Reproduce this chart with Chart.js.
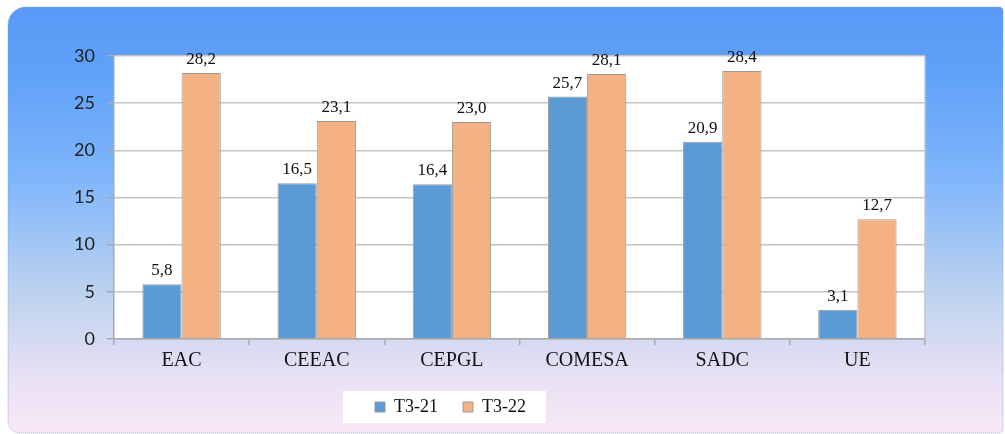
<!DOCTYPE html>
<html>
<head>
<meta charset="utf-8">
<script src="https://cdn.jsdelivr.net/npm/chart.js@4"></script>
<style>
html,body{margin:0;padding:0;background:#fff;}
#wrap{width:1005px;height:434px;position:relative;}
</style>
</head>
<body>
<div id="wrap"><canvas id="c" width="1005" height="434"></canvas></div>
<script>
const categories = ['EAC', 'CEEAC', 'CEPGL', 'COMESA', 'SADC', 'UE'];
const seriesNames = ['T3-21', 'T3-22'];
const valuesT321 = [5.8, 16.5, 16.4, 25.7, 20.9, 3.1];
const valuesT322 = [28.2, 23.1, 23.0, 28.1, 28.4, 12.7];
const yTicks = [0, 5, 10, 15, 20, 25, 30];

const bgPlugin = {
  id: 'bg',
  beforeDraw(chart) {
    const ctx = chart.ctx;
    ctx.save();
    ctx.fillStyle = '#ffffff';
    ctx.fillRect(0, 0, chart.width, chart.height);
    const x0 = 8, y0 = 7, x1 = 1003, y1 = 433;
    const g = ctx.createLinearGradient(0, y0, 0, y1);
    g.addColorStop(0, '#5a9af6');
    g.addColorStop(0.15, '#5fa0f8');
    g.addColorStop(0.4, '#7fb6fb');
    g.addColorStop(0.7, '#c3d5ee');
    g.addColorStop(0.88, '#e9e1f4');
    g.addColorStop(1, '#f8e8f6');
    ctx.beginPath();
    ctx.roundRect(x0, y0, x1 - x0, y1 - y0, [18, 4, 4, 12]);
    ctx.fillStyle = g;
    ctx.fill();
    ctx.setLineDash([1, 1]);
    ctx.strokeStyle = 'rgba(120,160,220,0.8)';
    ctx.lineWidth = 1;
    ctx.stroke();
    ctx.setLineDash([]);
    const a = chart.chartArea;
    ctx.fillStyle = '#ffffff';
    ctx.fillRect(a.left, a.top, a.right - a.left, a.bottom - a.top);
    const lg = chart.legend;
    if (lg && lg.legendHitBoxes && lg.legendHitBoxes.length) {
      const hb = lg.legendHitBoxes;
      const first = hb[0], last = hb[hb.length - 1];
      const cy = first.top + first.height / 2;
      ctx.fillStyle = '#ffffff';
      const l = first.left - 32, r = last.left + last.width + 20;
      ctx.fillRect(l, cy - 16, r - l, 32);
    }
    ctx.restore();
  },
  afterDatasetsDraw(chart) {
    const ctx = chart.ctx;
    const a = chart.chartArea;
    ctx.save();
    ctx.strokeStyle = '#c4c4c4';
    ctx.lineWidth = 1.5;
    ctx.beginPath();
    ctx.moveTo(a.right, a.top);
    ctx.lineTo(a.right, a.bottom);
    ctx.stroke();
    ctx.font = '17px "Liberation Serif", serif';
    ctx.fillStyle = '#111';
    ctx.textAlign = 'center';
    ctx.textBaseline = 'alphabetic';
    chart.data.datasets.forEach((ds, i) => {
      const meta = chart.getDatasetMeta(i);
      meta.data.forEach((el, j) => {
        const txt = ds.data[j].toFixed(1).replace('.', ',');
        ctx.fillText(txt, el.x, el.y - 9);
      });
    });
    ctx.restore();
  }
};

new Chart(document.getElementById('c'), {
  type: 'bar',
  data: {
    labels: categories,
    datasets: [
      { label: seriesNames[0], data: valuesT321, backgroundColor: '#5b9bd5', borderColor: '#9a9a9a', borderWidth: 1 },
      { label: seriesNames[1], data: valuesT322, backgroundColor: '#f4b183', borderColor: '#9a9a9a', borderWidth: 1 }
    ]
  },
  options: {
    responsive: false,
    animation: false,
    devicePixelRatio: 1,
    layout: { padding: { top: 56, right: 80, left: -24, bottom: 8 } },
    datasets: { bar: { categoryPercentage: 0.58, barPercentage: 1 } },
    plugins: {
      legend: {
        position: 'bottom',
        labels: {
          font: { family: '"Liberation Serif", serif', size: 18 },
          color: '#111',
          boxWidth: 10,
          boxHeight: 10,
          padding: 25,
          useBorderRadius: false
        }
      },
      tooltip: { enabled: false }
    },
    scales: {
      x: {
        grid: { display: true, drawOnChartArea: false, drawTicks: true, tickLength: 6, color: '#a8a8a8', lineWidth: 1.5, offset: true },
        border: { color: '#a8a8a8', width: 1.5 },
        ticks: { font: { family: '"Liberation Serif", serif', size: 20 }, color: '#111', padding: 4 },
        afterFit(s) { s.height = 34; }
      },
      y: {
        min: 0, max: 30,
        afterBuildTicks(s) { s.ticks = yTicks.map(v => ({ value: v })); },
        grid: { color: '#c4c4c4', lineWidth: 1.5, tickLength: 7, tickColor: '#a8a8a8' },
        border: { color: '#a8a8a8', width: 1.5 },
        ticks: { font: { family: 'Lato, sans-serif', size: 18 }, color: '#222', padding: 12 },
        afterFit(s) { s.width = 138; }
      }
    }
  },
  plugins: [bgPlugin]
});
</script>
</body>
</html>
